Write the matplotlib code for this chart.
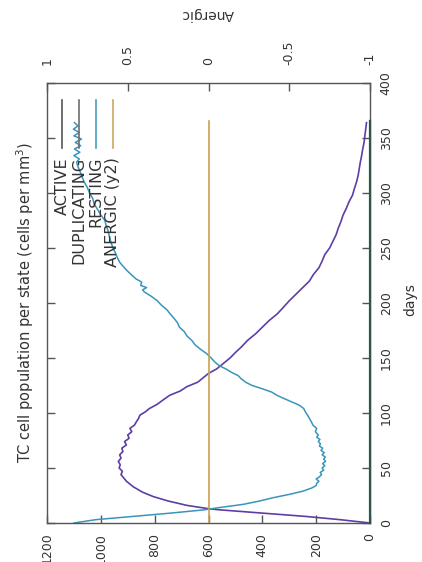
import numpy as np
import matplotlib
matplotlib.use('Agg')
import matplotlib.pyplot as plt

# ACTIVE cells (purple curve)
active_days = [0, 3, 6, 9, 12, 13, 16, 20, 24, 28, 33, 38, 41, 44, 47, 50, 53, 56, 59, 62,
               65, 68, 71, 74, 77, 80, 83, 86, 89, 92, 95, 98, 101, 104, 108, 112, 116, 120,
               124, 128, 132, 136, 140, 145, 150, 155, 160, 166, 172, 178, 184, 190, 196,
               202, 208, 214, 220, 226, 232, 238, 244, 250, 256, 262, 268, 274, 280, 286,
               292, 298, 304, 310, 316, 322, 328, 334, 340, 346, 352, 358, 364]
active = [0, 110, 240, 400, 560, 600, 680, 750, 805, 845, 880, 905, 915, 925, 920, 932, 928,
          935, 925, 930, 918, 922, 905, 912, 895, 900, 885, 892, 875, 868, 860, 855, 835, 820,
          790, 768, 745, 705, 680, 640, 620, 600, 570, 545, 520, 500, 478, 455, 425, 400, 375,
          345, 322, 300, 275, 250, 225, 210, 190, 178, 168, 150, 138, 126, 118, 108, 100, 88,
          78, 65, 58, 50, 44, 40, 36, 31, 27, 22, 19, 16, 13]

# DUPLICATING cells (stays at zero)
dup_days = [0, 365]
duplicating = [0, 0]

# RESTING cells (blue curve)
resting_days = [0, 3, 6, 9, 12, 14, 17, 20, 23, 26, 29, 32, 34, 36, 38, 40, 42, 44, 46, 48,
                50, 52, 54, 56, 58, 60, 62, 64, 66, 68, 70, 72, 74, 76, 78, 80, 83, 86, 89, 92,
                95, 98, 101, 104, 107, 110, 113, 116, 119, 122, 125, 128, 131, 134, 137, 140,
                143, 146, 150, 154, 158, 162, 166, 170, 174, 178, 182, 186, 190, 194, 198, 202,
                206, 210, 212, 214, 216, 219, 222, 226, 230, 233, 237, 241, 245, 250, 255, 260,
                265, 270, 275, 280, 285, 290, 295, 300, 305, 310, 315, 320, 324, 328, 331, 334,
                337, 340, 343, 346, 349, 352, 355, 358, 361, 364]
resting = [1100, 1020, 880, 740, 615, 560, 470, 410, 360, 300, 248, 215, 200, 198, 190, 200,
           188, 180, 185, 172, 178, 168, 176, 165, 172, 166, 178, 170, 182, 176, 188, 184, 192,
           186, 198, 192, 203, 198, 212, 218, 225, 232, 240, 246, 262, 290, 318, 345, 365, 400,
           438, 462, 478, 490, 515, 535, 560, 575, 590, 607, 630, 650, 662, 680, 690, 708, 715,
           728, 742, 755, 775, 790, 812, 838, 845, 830, 852, 848, 870, 888, 905, 916, 930, 938,
           945, 955, 962, 968, 972, 980, 985, 1000, 1012, 1025, 1030, 1042, 1050, 1062, 1070,
           1078, 1085, 1090, 1080, 1100, 1078, 1098, 1075, 1095, 1072, 1100, 1080, 1102, 1085,
           1098]

# ANERGIC cells on the second axis
anergic_days = [0, 365]
anergic = [0, 0]

pop_ticks = [1200, 1000, 800, 600, 400, 200, 0]
day_ticks = [0, 50, 100, 150, 200, 250, 300, 350, 400]
anergic_ticks = [1, 0.5, 0, -0.5, -1]
anergic_labels = ['1', '0.5', '0', '-0.5', '-1']

legend_labels = ['ACTIVE', 'DUPLICATING', 'RESTING', 'ANERGIC (y2)']
legend_colors = ['#555555', '#6e6e6e', '#4a9cc0', '#c9a860']

txt = '#333333'
grey = '#555555'
plt.rcParams['font.family'] = 'DejaVu Sans'
plt.rcParams['font.size'] = 9

fig = plt.figure(figsize=(4.22, 5.62), dpi=100)
ax = fig.add_axes([47 / 422, 39 / 562, 323 / 422, 440 / 562])

ax.plot(active, active_days, color='#5e3ea4', lw=1.2)
ax.plot(duplicating, dup_days, color='#2f5548', lw=1.6, clip_on=False, zorder=5)
ax.plot(resting, resting_days, color='#3a95ba', lw=1.1)

ax.set_xlim(1200, 0)
ax.set_ylim(0, 400)
ax.set_xticks(pop_ticks)
ax.set_xticklabels([str(t) for t in pop_ticks], rotation=90, color=txt)
ax.set_yticks(day_ticks)
ax.set_yticklabels([str(t) for t in day_ticks], rotation=90, va='center', color=txt)
ax.tick_params(axis='x', direction='in', bottom=True, top=False, length=6, width=1,
               color=grey, pad=7)
ax.tick_params(axis='y', direction='in', left=True, right=True, labelleft=False,
               labelright=True, length=6, width=1, color=grey, pad=7)
for s in ax.spines.values():
    s.set_color(grey)
    s.set_linewidth(1)

ax2 = ax.twiny()
ax2.plot(anergic, anergic_days, color='#c9a050', lw=1.2)
ax2.set_xlim(1, -1)
ax2.set_xticks(anergic_ticks)
ax2.set_xticklabels(anergic_labels, rotation=90, color=txt)
ax2.tick_params(axis='x', direction='in', top=True, bottom=False, length=6, width=1,
                color=grey, pad=13)
for s in ax2.spines.values():
    s.set_visible(False)

# legend drawn by hand, rotated like the rest of the chart
for i, (lab, col) in enumerate(zip(legend_labels, legend_colors)):
    xf = (62 + 17 * i - 47) / 323
    ax.plot([xf, xf], [0.961, 0.852], transform=ax.transAxes, color=col, lw=1.2)
    ax.text(xf, 0.832, lab, transform=ax.transAxes, rotation=90, ha='center', va='top',
            color=txt, fontsize=11.5)

fig.text(410 / 422, 1 - 300 / 562, 'days', rotation=90, ha='center', va='center',
         color=txt, fontsize=10)
fig.text(208 / 422, 1 - 14 / 562, 'Anergic', rotation=180, ha='center', va='center',
         color=txt, fontsize=10)
fig.text(25 / 422, 1 - 303 / 562, 'TC cell population per state (cells per mm$^3$)',
         rotation=90, ha='center', va='center', color=txt, fontsize=10.5)

fig.savefig('out.png', dpi=100)
